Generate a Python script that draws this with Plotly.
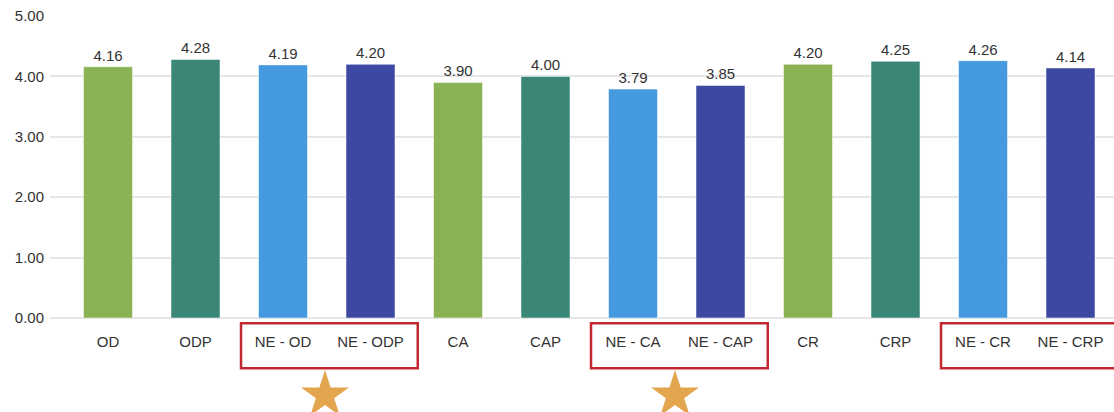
import plotly.graph_objects as go

# Mean scores per measure
categories = ["OD", "ODP", "NE - OD", "NE - ODP", "CA", "CAP",
              "NE - CA", "NE - CAP", "CR", "CRP", "NE - CR", "NE - CRP"]
values = [4.16, 4.28, 4.19, 4.20, 3.90, 4.00, 3.79, 3.85, 4.20, 4.25, 4.26, 4.14]
palette = ["#8AB254", "#3A8778", "#4599DE", "#3D48A3"]
bar_colors = [palette[i % 4] for i in range(len(categories))]

# Highlighted pairs (start index, end index) and which ones get a star
highlight_groups = [(2, 3), (6, 7), (10, 11)]
starred = [0, 1]

font_family = "Liberation Sans, Arial, sans-serif"
x_range = [-0.663, 11.497]
main_dom = 94 / 396  # main plot sits above a strip reserved for labels and stars

fig = go.Figure()
fig.add_trace(go.Bar(
    x=list(range(len(categories))),
    y=values,
    marker=dict(color=bar_colors, line=dict(color="rgba(255,255,255,0.5)", width=1)),
    width=0.56,
    text=[f"{v:.2f}" for v in values],
    textposition="outside",
    textfont=dict(size=15, color="#333333", family=font_family),
    cliponaxis=False,
    hoverinfo="skip",
    xaxis="x", yaxis="y",
))

shapes = []
star_x = []
for gi, (a, b) in enumerate(highlight_groups):
    shapes.append(dict(
        type="rect", xref="x", yref="y domain",
        x0=a - 0.48, x1=b + 0.54, y0=-0.017, y1=-0.166,
        line=dict(color="#C2282F", width=2.5), fillcolor="rgba(0,0,0,0)",
    ))
    if gi in starred:
        star_x.append((a + b) / 2 - 0.02)

# Stars below their highlighted pair, in the lower strip (same value scale as the bars)
fig.add_trace(go.Scatter(
    x=star_x, y=[-1.28] * len(star_x), mode="markers",
    marker=dict(symbol="star", size=36, color="#E3A64E", line=dict(width=0)),
    hoverinfo="skip", xaxis="x2", yaxis="y2", cliponaxis=False,
))

fig.update_layout(
    width=1114, height=412,
    margin=dict(l=50, r=0, t=16, b=0),
    paper_bgcolor="white", plot_bgcolor="white",
    showlegend=False,
    font=dict(family=font_family, color="#333333"),
    shapes=shapes,
    xaxis=dict(
        tickmode="array", tickvals=list(range(len(categories))), ticktext=categories,
        range=x_range, anchor="y", automargin=False,
        tickfont=dict(size=15, color="#333333"),
        showgrid=False, showline=False, zeroline=False, ticks="", ticklabelstandoff=13,
    ),
    yaxis=dict(
        domain=[main_dom, 1], range=[0, 5], tickvals=[0, 1, 2, 3, 4, 5], tickformat=".2f",
        tickfont=dict(size=15, color="#333333"), automargin=False,
        showgrid=True, gridcolor="#E6E6E6", gridwidth=1.5,
        zeroline=True, zerolinecolor="#E6E6E6", zerolinewidth=1.5,
        showline=False, ticks="", ticklabelstandoff=5,
    ),
    xaxis2=dict(range=x_range, anchor="y2", visible=False),
    yaxis2=dict(domain=[0, main_dom], range=[-94 / 60.4, 0], anchor="x2", visible=False),
)

fig.write_html("out.html")
